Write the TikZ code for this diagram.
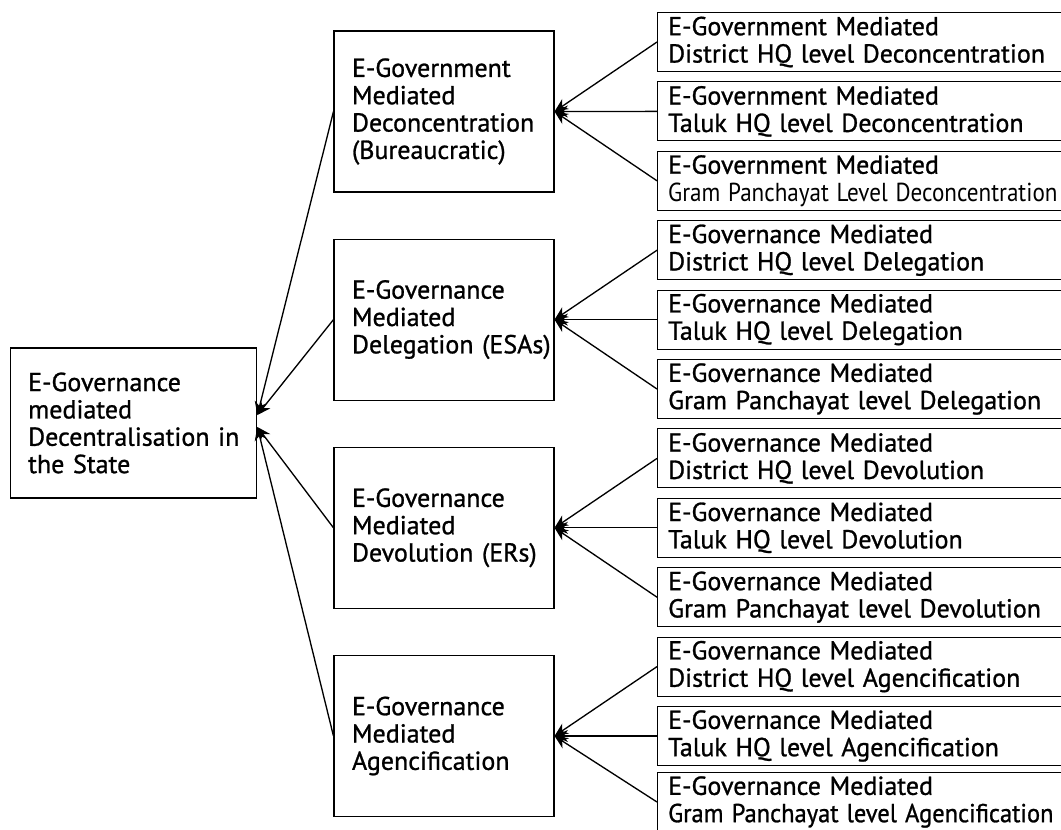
\documentclass[tikz,border=0pt]{standalone}
\usepackage{fontspec}
\setmainfont{PT Sans}[UprightFeatures={FakeBold=1}]
\newfontfamily\thinfont{PT Sans}
\usetikzlibrary{arrows.meta}

\begin{document}
\begin{tikzpicture}[x=0.75pt,y=-0.75pt,font=\fontsize{19.5}{20.5}\selectfont]

      \useasboundingbox (0,0) rectangle (1061,829);
      \clip (0,0) rectangle (1061,829);

      % state level
      \begin{scope}[every node/.style={draw,line width=0.8pt,align=left,
          text width=158pt,inner xsep=13.5pt,minimum height=112.5pt}]
        \node (root) at (133.5,423) {E-Governance\\mediated\\Decentralisation~in\\the State};
      \end{scope}

      % four modes
      \begin{scope}[every node/.style={draw,line width=0.8pt,align=left,
          text width=138pt,inner xsep=13.5pt,minimum height=120.75pt}]
        \node (dec) at (444,111.5) {E-Government\\Mediated\\Deconcentration\\(Bureaucratic)};
        \node (del) at (444,319.6) {E-Governance\\Mediated\\Delegation~(ESAs)};
        \node (dev) at (444,527.8) {E-Governance\\Mediated\\Devolution~(ERs)};
        \node (age) at (444,736)   {E-Governance\\Mediated\\Agencification};
      \end{scope}

      % levels
      \begin{scope}[every node/.style={draw,line width=0.8pt,align=left,anchor=west,
          text width=320pt,inner xsep=8pt,inner ysep=1pt,minimum height=44.25pt}]
        \node (dec1) at (657,42)    {E-Government Mediated\\District HQ level Deconcentration};
        \node (dec2) at (657,111.4) {E-Government Mediated\\Taluk HQ level Deconcentration};
        \node (dec3) at (657,180.8) {E-Government Mediated\\{\thinfont\resizebox{292pt}{\height}{Gram Panchayat Level Deconcentration}}};
        \node (del1) at (657,250.2) {E-Governance Mediated\\District HQ level Delegation};
        \node (del2) at (657,319.6) {E-Governance Mediated\\Taluk HQ level Delegation};
        \node (del3) at (657,389)   {E-Governance Mediated\\Gram Panchayat level Delegation};
        \node (dev1) at (657,458.4) {E-Governance Mediated\\District HQ level Devolution};
        \node (dev2) at (657,527.8) {E-Governance Mediated\\Taluk HQ level Devolution};
        \node (dev3) at (657,597.2) {E-Governance Mediated\\Gram Panchayat level Devolution};
        \node (age1) at (657,666.6) {E-Governance Mediated\\District HQ level Agencification};
        \node (age2) at (657,736)   {E-Governance Mediated\\Taluk HQ level Agencification};
        \node (age3) at (657,802)   {E-Governance Mediated\\\resizebox{289pt}{\height}{Gram Panchayat level Agencification}};
      \end{scope}

      \coordinate (up) at ([yshift=6pt]root.east);
      \coordinate (dn) at ([yshift=-3pt]root.east);

      \begin{scope}[every edge/.style={draw,line width=1pt,-{Stealth[length=10pt,width=9pt]}}]
        \path (dec.west) edge (up);
        \path (del.west) edge (up);
        \path (dev.west) edge (dn);
        \path (age.west) edge (dn);

        \path (dec1.west) edge (dec.east);
        \path (dec2.west) edge (dec.east);
        \path (dec3.west) edge (dec.east);
        \path (del1.west) edge (del.east);
        \path (del2.west) edge (del.east);
        \path (del3.west) edge (del.east);
        \path (dev1.west) edge (dev.east);
        \path (dev2.west) edge (dev.east);
        \path (dev3.west) edge (dev.east);
        \path (age1.west) edge (age.east);
        \path (age2.west) edge (age.east);
        \path (age3.west) edge (age.east);
      \end{scope}

    \end{tikzpicture}
\end{document}
